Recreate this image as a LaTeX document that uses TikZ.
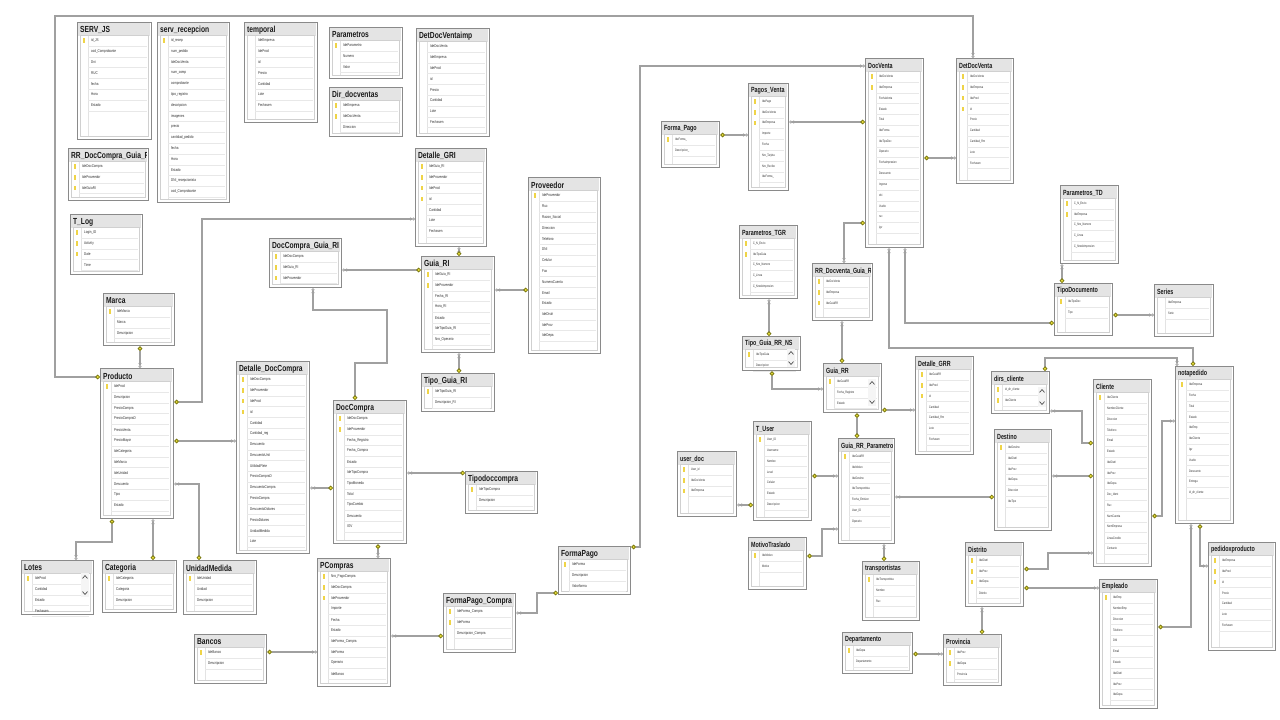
\documentclass[tikz,border=0pt]{standalone}
\usepackage{fontspec}
\setmainfont{Liberation Sans}
\usetikzlibrary{arrows.meta}
\definecolor{bordc}{HTML}{8A8A8A}
\definecolor{titc}{HTML}{E4E4E4}
\definecolor{innc}{HTML}{D0D0D0}
\definecolor{linec}{HTML}{A0A0A0}
\definecolor{keyy}{HTML}{EDE13A}
\definecolor{keyo}{HTML}{7C7A12}
\definecolor{fldc}{HTML}{2E2E2E}
\definecolor{keyic}{HTML}{EFD447}
\tikzset{
 tblbox/.style={draw=bordc, line width=1.3pt, fill=white, inner sep=0pt},
 ttl/.style={anchor=west, inner sep=0pt, font=\bfseries\fontsize{8.8}{9}\selectfont, text=black!90},
 fld/.style={anchor=west, inner sep=0pt, font=\fontsize{4}{4.4}\selectfont, text=fldc},
 narrow/.style={xscale=0.61, yscale=0.85, transform shape},
 wide/.style={xscale=0.76, transform shape},
 conn/.style={draw=linec, line width=1.1pt},
 mk/.style={arrows={{Circle[open,length=3pt,width=3pt,line width=0.7pt,sep=0pt] Circle[open,length=3pt,width=3pt,line width=0.7pt]}-{Circle[length=4.6pt,fill=keyy,color=keyo,line width=0.8pt]}}},
 km/.style={arrows={{Circle[length=4.6pt,fill=keyy,color=keyo,line width=0.8pt]}-{Circle[open,length=3pt,width=3pt,line width=0.7pt,sep=0pt] Circle[open,length=3pt,width=3pt,line width=0.7pt]}}},
 kk/.style={arrows={{Circle[length=4.6pt,fill=keyy,color=keyo,line width=0.8pt]}-{Circle[length=4.6pt,fill=keyy,color=keyo,line width=0.8pt]}}},
 chev/.style={draw=black!70, line width=0.7pt},
}
\newcommand\ertable[9]{%
 \pgfmathsetmacro\ertw{#4-#2}\pgfmathsetmacro\erth{#5-#3}%
 \node[tblbox, anchor=north west, minimum width=\ertw pt, minimum height=\erth pt] (#1) at (#2,#3) {};
 \fill[titc] (#2+1,#3+1) rectangle (#4-1,#3+13.5);
 \draw[innc, line width=0.5pt, fill=white] (#2+3,#3+13.5) rectangle (#4-3,#5-3);
 \draw[innc!60, line width=0.3pt] (#2+11,#3+14) -- (#2+11,#5-3);
 \begin{scope}
  \clip (#2+1.5,#3+1) rectangle (#4-1.5,#3+14);
  \node[ttl,#9] (#1-t) at (#2+3,#3+8) {#7};
 \end{scope}
 \foreach \f [count=\i] in {#8} {%
   \pgfmathsetmacro\yy{#3+18.5+10.8*(\i-1)}%
   \draw[innc!50, line width=0.3pt] (#2+11,\yy+5.4) -- (#4-4,\yy+5.4);
   \ifnum\i>#6\relax\else\fill[keyic] (#2+6,\yy-2.2) rectangle +(1.8,4.4);\fi
   \node[fld,#9] (#1-\i) at (#2+14,\yy) {\f};
 }%
}
\newcommand\erscroll[3]{%
 \fill[gray!8] (#1-4,#2-4) rectangle (#1+4,#3+4);
 \draw[chev] (#1-2.5,#2+1.3) -- (#1,#2-1.3) -- (#1+2.5,#2+1.3);
 \draw[chev] (#1-2.5,#3-1.3) -- (#1,#3+1.3) -- (#1+2.5,#3-1.3);
}
\begin{document}
\begin{tikzpicture}[x=1pt,y=-1pt]
\useasboundingbox (0,0) rectangle (1280,720);
\fill[white] (0,0) rectangle (1280,720);

% ---------- left part ----------
\ertable{SERVJS}{77}{22}{151}{139}{1}{SERV\_JS}{id\_JS,cod\_Comprobante,Dni,RUC,fecha,Hora,Estado}{wide}
\ertable{servrecepcion}{157}{22}{229}{202}{1}{serv\_recepcion}{id\_recep,num\_pedido,IdeDocVenta,num\_comp,comprobante,tipo\_registro,descripcion,imagenes,precio,cantidad\_pedido,fecha,Hora,Estado,DNI\_recepcionista,cod\_Comprobante}{wide}
\ertable{temporal}{244}{22}{317}{122}{0}{temporal}{IdeEmpresa,IdeProd,id,Precio,Cantidad,Lote,Fechaven}{wide}
\ertable{Parametros}{329}{27}{402}{78}{1}{Parametros}{IdeParametro,Numero,Valor}{wide}
\ertable{Dirdocventas}{329}{87}{402}{136}{2}{Dir\_docventas}{IdeEmpresa,IdeDocVenta,Direccion}{wide}
\ertable{DetDocVentaimp}{416}{28}{489}{136}{0}{DetDocVentaimp}{IdeDocVenta,IdeEmpresa,IdeProd,id,Precio,Cantidad,Lote,Fechaven}{wide}
\ertable{RRDocCompraGuia}{68}{148}{148}{200}{3}{RR\_DocCompra\_Guia\_RI}{IdeDocCompra,IdeProveedor,IdeGuiaRI}{wide}
\ertable{TLog}{70}{214}{142}{274}{3}{T\_Log}{Login\_ID,Activity,Date,Time}{wide}
\ertable{DetalleGRI}{415}{148}{486}{246}{4}{Detalle\_GRI}{IdeGuia\_RI,IdeProveedor,IdeProd,id,Cantidad,Lote,Fechaven}{wide}
\ertable{Proveedor}{528}{177}{600}{353}{1}{Proveedor}{IdeProveedor,Ruc,Razon\_Social,Direccion,Telefono,DNI,Celular,Fax,NumeroCuenta,Email,Estado,IdeDistri,IdeProv,IdeDepa}{wide}
\ertable{DocCompraGuiaRI}{269}{238}{341}{287}{3}{DocCompra\_Guia\_RI}{IdeDocCompra,IdeGuia\_RI,IdeProveedor}{wide}
\ertable{GuiaRI}{421}{256}{494}{352}{2}{Guia\_RI}{IdeGuia\_RI,IdeProveedor,Fecha\_RI,Hora\_RI,Estado,IdeTipoGuia\_RI,Nro\_Operario}{wide}
\ertable{TipoGuiaRI}{421}{373}{494}{411}{1}{Tipo\_Guia\_RI}{IdeTipoGuia\_RI,Descripcion\_RI}{wide}
\ertable{Marca}{103}{293}{174}{345}{1}{Marca}{IdeMarca,Marca,Descripcion}{wide}
\ertable{Producto}{100}{368}{173}{518}{1}{Producto}{IdeProd,Descripcion,PrecioCompra,PrecioCompraD,PrecioVenta,PrecioMayor,IdeCategoria,IdeMarca,IdeUnidad,Descuento,Tipo,Estado}{wide}
\ertable{DetalleDocCompra}{236}{361}{309}{553}{4}{Detalle\_DocCompra}{IdeDocCompra,IdeProveedor,IdeProd,id,Cantidad,Cantidad\_reg,Descuento,DescuentoUnit,UtilidadFlete,PrecioCompraD,DescuentoCompra,PrecioCompra,DescuentoDolares,PrecioDolares,UnidadMedida,Lote}{wide}
\ertable{DocCompra}{333}{400}{406}{543}{2}{DocCompra}{IdeDocCompra,IdeProveedor,Fecha\_Registro,Fecha\_Compra,Estado,IdeTipoCompra,TipoMoneda,Total,TipoCambio,Descuento,IGV}{wide}
\ertable{Tipodoccompra}{465}{471}{537}{513}{1}{Tipodoccompra}{IdeTipoCompra,Descripcion}{wide}
\ertable{Lotes}{21}{560}{93}{614}{1}{Lotes}{IdeProd,Cantidad,Estado,Fechaven}{wide}
\erscroll{85}{577}{593}
\ertable{Categoria}{102}{560}{176}{612}{1}{Categoria}{IdeCategoria,Categoria,Descripcion}{wide}
\ertable{UnidadMedida}{183}{560}{256}{614}{1}{UnidadMedida}{IdeUnidad,Unidad,Descripcion}{wide}
\ertable{PCompras}{317}{558}{390}{686}{3}{PCompras}{Nro\_PagoCompra,IdeDocCompra,IdeProveedor,Importe,Fecha,Estado,IdeForma\_Compra,IdeForma,Operario,IdeBanco}{wide}
\ertable{Bancos}{194}{634}{266}{683}{1}{Bancos}{IdeBanco,Descripcion}{wide}
\ertable{FormaPagoCompra}{443}{593}{515}{652}{2}{FormaPago\_Compra}{IdeForma\_Compra,IdeForma,Descripcion\_Compra}{wide}
\ertable{FormaPago}{558}{546}{630}{594}{1}{FormaPago}{IdeForma,Descripcion,Valorforma}{wide}

% ---------- right part ----------
\ertable{FormaPagoR}{661}{121}{719}{167}{1}{Forma\_Pago}{IdeForma\_,Descripcion\_}{narrow}
\ertable{PagosVenta}{748}{83}{788}{190}{3}{Pagos\_Venta}{IdePago,IdeDocVenta,IdeEmpresa,Importe,Fecha,Nro\_Tarjeta,Nro\_Recibo,IdeForma\_}{narrow}
\ertable{DocVenta}{865}{58}{923}{247}{2}{DocVenta}{IdeDocVenta,IdeEmpresa,FechaVenta,Estado,Total,IdeForma,IdeTipoDoc,Operario,FechaImpresion,Descuento,Ingreso,dni,Vuelto,ruc,igv}{narrow}
\ertable{DetDocVenta}{956}{58}{1013}{183}{4}{DetDocVenta}{IdeDocVenta,IdeEmpresa,IdeProd,id,Precio,Cantidad,Cantidad\_Rm,Lote,Fechaven}{narrow}
\ertable{ParametrosTGR}{739}{225}{797}{298}{2}{Parametros\_TGR}{C\_N\_Envio,IdeTipoGuia,C\_Nro\_Numero,C\_Linea,C\_Nrodeimpresion}{narrow}
\ertable{RRDocventa}{812}{263}{872}{320}{3}{RR\_Docventa\_Guia\_RF}{IdeDocVenta,IdeEmpresa,IdeGuiaRR}{narrow}
\ertable{ParametrosTD}{1060}{185}{1118}{263}{2}{Parametros\_TD}{C\_N\_Envio,IdeEmpresa,C\_Nro\_Numero,C\_Linea,C\_Nrodeimpresion}{narrow}
\ertable{TipoDocumento}{1054}{283}{1112}{335}{1}{TipoDocumento}{IdeTipoDoc,Tipo}{narrow}
\ertable{Series}{1154}{284}{1213}{336}{0}{Series}{IdeEmpresa,Serie}{narrow}
\ertable{TipoGuiaRRNS}{742}{336}{800}{370}{1}{Tipo\_Guia\_RR\_NS}{IdeTipoGuia,Descripcion}{narrow}
\erscroll{791}{353}{363}
\ertable{GuiaRR}{823}{363}{881}{412}{1}{Guia\_RR}{IdeGuiaRR,Fecha\_Registro,Estado}{narrow}
\erscroll{872}{383}{402}
\ertable{DetalleGRR}{915}{356}{973}{454}{3}{Detalle\_GRR}{IdeGuiaRR,IdeProd,id,Cantidad,Cantidad\_Rm,Lote,Fechaven}{narrow}
\ertable{dirscliente}{991}{371}{1049}{413}{2}{dirs\_cliente}{id\_dir\_cliente,IdeCliente}{narrow}
\erscroll{1042}{391}{403}
\ertable{notapedido}{1175}{366}{1233}{523}{1}{notapedido}{IdeEmpresa,Fecha,Total,Estado,IdeEmp,IdeCliente,Igv,Vuelto,Descuento,Entrega,id\_dir\_cliente}{narrow}
\ertable{Cliente}{1093}{379}{1151}{566}{1}{Cliente}{IdeCliente,NombreCliente,Direccion,Telefono,Email,Estado,IdeDistri,IdeProv,IdeDepa,Doc\_Ident,Ruc,NumCuenta,NomEmpresa,LineaCredito,Contacto}{narrow}
\ertable{Destino}{994}{429}{1051}{530}{1}{Destino}{IdeDestino,IdeDistri,IdeProv,IdeDepa,Direccion,IdeTipo}{narrow}
\ertable{Distrito}{965}{542}{1023}{606}{3}{Distrito}{IdeDistri,IdeProv,IdeDepa,Distrito}{narrow}
\ertable{Empleado}{1099}{579}{1157}{708}{1}{Empleado}{IdeEmp,NombreEmp,Direccion,Telefono,DNI,Email,Estado,IdeDistri,IdeProv,IdeDepa}{narrow}
\ertable{pedidoxproducto}{1208}{542}{1275}{650}{3}{pedidoxproducto}{IdeEmpresa,IdeProd,id,Precio,Cantidad,Lote,Fechaven}{narrow}
\ertable{TUser}{753}{421}{811}{520}{1}{T\_User}{User\_ID,Username,Nombre,Level,Celular,Estado,Descripcion}{narrow}
\ertable{userdoc}{677}{451}{736}{516}{3}{user\_doc}{User\_id,IdeDocVenta,IdeEmpresa}{narrow}
\ertable{GuiaRRP}{838}{438}{894}{543}{1}{Guia\_RR\_Parametror}{IdeGuiaRR,IdeMotivo,IdeDestino,IdeTransportista,Fecha\_Emision,User\_ID,Operario}{narrow}
\ertable{MotivoTraslado}{748}{537}{806}{589}{1}{MotivoTraslado}{IdeMotivo,Motivo}{narrow}
\ertable{transportistas}{862}{561}{919}{620}{1}{transportistas}{IdeTransportista,Nombre,Ruc}{narrow}
\ertable{Departamento}{842}{632}{912}{673}{1}{Departamento}{IdeDepa,Departamento}{narrow}
\ertable{Provincia}{943}{634}{1001}{685}{2}{Provincia}{IdeProv,IdeDepa,Provincia}{narrow}

% ---------- connectors ----------
\draw[conn,mk] (DetDocVenta.north -| 973,0) |- (55,16) |- (Producto.west |- 0,377);
\draw[conn,mk] (DetalleGRI.west |- 0,219) -| (202,402) -- (Producto.east |- 0,402);
\draw[conn,mk] (DocCompraGuiaRI.east |- 0,270) -- (GuiaRI.west |- 0,270);
\draw[conn,mk] (DetalleGRI.south -| 459,0) -- (GuiaRI.north -| 459,0);
\draw[conn,mk] (GuiaRI.east |- 0,290) -- (Proveedor.west |- 0,290);
\draw[conn,mk] (GuiaRI.south -| 459,0) -- (TipoGuiaRI.north -| 459,0);
\draw[conn,mk] (DocCompraGuiaRI.south -| 313,0) -- (313,310) -- (387,310) -- (387,363) -- (355,363) -- (DocCompra.north -| 355,0);
\draw[conn,km] (Marca.south -| 140,0) -- (Producto.north -| 140,0);
\draw[conn,km] (Producto.east |- 0,441) -- (DetalleDocCompra.west |- 0,441);
\draw[conn,mk] (Producto.east |- 0,484) -| (UnidadMedida.north -| 199,0);
\draw[conn,km] (Producto.south -| 112,0) |- (76,542) -- (Lotes.north -| 76,0);
\draw[conn,mk] (Producto.south -| 153,0) -- (Categoria.north -| 153,0);
\draw[conn,mk] (DetalleDocCompra.east |- 0,488) -- (DocCompra.west |- 0,488);
\draw[conn,mk] (DocCompra.east |- 0,473) -- (Tipodoccompra.west |- 0,473);
\draw[conn,km] (DocCompra.south -| 378,0) -- (PCompras.north -| 378,0);
\draw[conn,mk] (PCompras.west |- 0,652) -- (Bancos.east |- 0,652);
\draw[conn,mk] (PCompras.east |- 0,636) -- (FormaPagoCompra.west |- 0,636);
\draw[conn,mk] (FormaPagoCompra.east |- 0,613) -| (537,593) -- (FormaPago.west |- 0,593);
\draw[conn,km] (FormaPago.east |- 0,547) -| (640,66) -- (DocVenta.west |- 0,66);
\draw[conn,km] (FormaPagoR.east |- 0,135) -- (PagosVenta.west |- 0,135);
\draw[conn,mk] (PagosVenta.east |- 0,122) -- (DocVenta.west |- 0,122);
\draw[conn,km] (DocVenta.east |- 0,158) -- (DetDocVenta.west |- 0,158);
\draw[conn,km] (DocVenta.west |- 0,223) -| (RRDocventa.north -| 844,0);
\draw[conn,mk] (DocVenta.south -| 889,0) |- (1193,348) -- (notapedido.north -| 1193,0);
\draw[conn,mk] (DocVenta.south -| 905,0) |- (TipoDocumento.west |- 0,323);
\draw[conn,mk] (ParametrosTD.south -| 1062,0) -- (TipoDocumento.north -| 1062,0);
\draw[conn,mk] (Series.west |- 0,315) -- (TipoDocumento.east |- 0,315);
\draw[conn,mk] (ParametrosTGR.south -| 769,0) -- (TipoGuiaRRNS.north -| 769,0);
\draw[conn,mk] (RRDocventa.south -| 842,0) -- (GuiaRR.north -| 842,0);
\draw[conn,km] (TipoGuiaRRNS.south -| 772,0) |- (GuiaRR.west |- 0,389);
\draw[conn,km] (GuiaRR.east |- 0,410) -- (DetalleGRR.west |- 0,410);
\draw[conn,kk] (GuiaRR.south -| 857,0) -- (GuiaRRP.north -| 857,0);
\draw[conn,mk] (GuiaRRP.west |- 0,476) -- (TUser.east |- 0,476);
\draw[conn,mk] (userdoc.east |- 0,505) -- (TUser.west |- 0,505);
\draw[conn,mk] (GuiaRRP.west |- 0,529) -| (822,556) -- (MotivoTraslado.east |- 0,556);
\draw[conn,mk] (GuiaRRP.east |- 0,497) -- (Destino.west |- 0,497);
\draw[conn,mk] (GuiaRRP.south -| 884,0) -- (transportistas.north -| 884,0);
\draw[conn,km] (dirscliente.north -| 1045,0) |- (1177,358) -- (notapedido.north -| 1177,0);
\draw[conn,mk] (dirscliente.east |- 0,411) -| (1082,443) -- (Cliente.west |- 0,443);
\draw[conn,mk] (Destino.east |- 0,476) -- (Cliente.west |- 0,476);
\draw[conn,mk] (notapedido.west |- 0,421) -| (1162,516) -- (Cliente.east |- 0,516);
\draw[conn,mk] (Cliente.west |- 0,553) -| (1048,569) -- (Distrito.east |- 0,569);
\draw[conn,mk] (Empleado.west |- 0,588) -- (Distrito.east |- 0,588);
\draw[conn,mk] (notapedido.south -| 1191,0) |- (Empleado.east |- 0,627);
\draw[conn,km] (notapedido.south -| 1200,0) |- (pedidoxproducto.west |- 0,566);
\draw[conn,mk] (Distrito.south -| 982,0) -- (Provincia.north -| 982,0);
\draw[conn,mk] (Provincia.west |- 0,654) -- (Departamento.east |- 0,654);
\end{tikzpicture}
\end{document}
